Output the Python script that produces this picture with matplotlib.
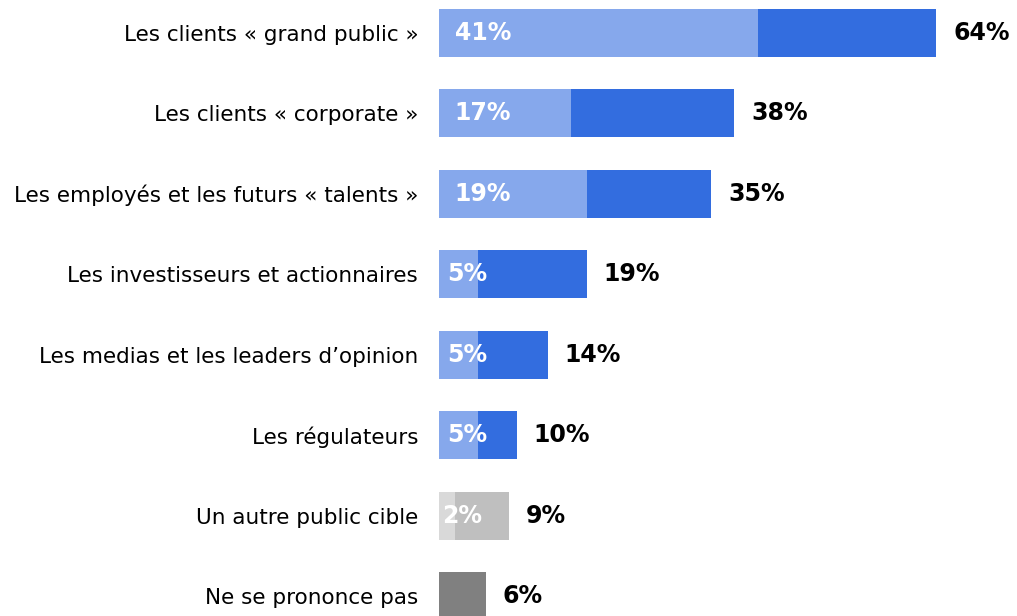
import matplotlib.pyplot as plt

##### data #####
categories = ["Les clients « grand public »",
              "Les clients « corporate »",
              "Les employés et les futurs « talents »",
              "Les investisseurs et actionnaires",
              "Les medias et les leaders d\u2019opinion",
              "Les régulateurs",
              "Un autre public cible",
              "Ne se prononce pas"]
first_choice = [41, 17, 19, 5, 5, 5, 2, 0]
total = [64, 38, 35, 19, 14, 10, 9, 6]

light_colors = ["#86A8EC"] * 6 + ["#D9D9D9", "#808080"]
dark_colors = ["#336DDF"] * 6 + ["#BFBFBF", "#808080"]

##### figure #####
W, H = 1017, 616
fig = plt.figure(figsize=(W / 100, H / 100), dpi=100)
px_per_pct = 7.77
x0 = 439
ax = fig.add_axes([x0 / W, 0, 1 - x0 / W, 1])
ax.set_xlim(0, (W - x0) / px_per_pct)
pitch = 80.57
ax.set_ylim(7 + (H - 596.5) / pitch, -32.5 / pitch)

ypos = list(range(len(categories)))
bh = 48 / pitch
ax.barh(ypos, total, height=bh, color=dark_colors, left=0)
ax.barh(ypos, first_choice, height=bh, color=light_colors, left=0)

for i in range(len(categories)):
    ax.text(total[i] + 17 / px_per_pct, i, f"{total[i]}%", va="center", ha="left",
            fontsize=17, fontweight="bold", color="black")
    if first_choice[i] > 0:
        pad = min(2.0, 0.2 * first_choice[i])
        ax.text(pad, i, f"{first_choice[i]}%", va="center", ha="left",
                fontsize=17, fontweight="bold", color="white")

ax.set_yticks(ypos)
ax.set_yticklabels(categories, fontsize=15.5)
ax.tick_params(axis="y", length=0, pad=15)
ax.set_xticks([])
for s in ax.spines.values():
    s.set_visible(False)

plt.savefig("out.png", dpi=100)
